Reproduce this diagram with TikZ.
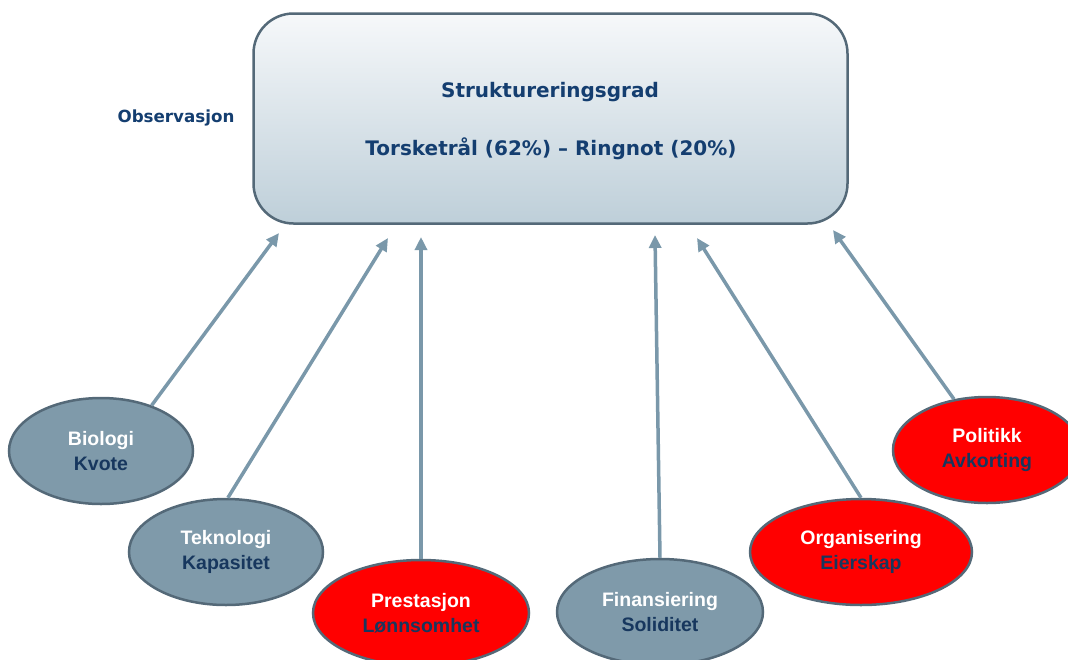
\documentclass[tikz,border=0pt]{standalone}
\usepackage{fontspec}
\setmainfont{Liberation Sans}
\newfontfamily\comicfont{DejaVu Sans}
\usetikzlibrary{shapes.geometric,arrows.meta}
\definecolor{boxtop}{RGB}{246,248,250}
\definecolor{boxbot}{RGB}{190,207,217}
\definecolor{edgegray}{RGB}{84,105,120}
\definecolor{ellgray}{RGB}{127,154,170}
\definecolor{ellred}{RGB}{255,0,0}
\definecolor{arrowgray}{RGB}{122,152,170}
\definecolor{navy}{RGB}{23,55,94}
\definecolor{boxtext}{RGB}{20,62,112}
\tikzset{
  factor/.style={ellipse, draw=edgegray, line width=2.5pt, inner sep=0pt,
    align=center, font=\fontsize{19.5}{25}\selectfont\bfseries, text=white},
  grayell/.style={factor, fill=ellgray},
  redell/.style={factor, fill=ellred},
  link/.style={draw=arrowgray, line width=3.5pt,
    -{Triangle[length=13pt,width=12pt]}},
  boxlabel/.style={font=\comicfont\bfseries\fontsize{20}{24}\selectfont, text=boxtext, inner sep=0pt}
}
\newcommand{\sub}[1]{\textcolor{navy}{#1}}
\begin{document}
\begin{tikzpicture}[x=1pt,y=-1pt]
\useasboundingbox (0,0) rectangle (1068,659);
% main box
\node[draw=edgegray, line width=2.5pt, rounded corners=40pt,
  top color=boxtop, bottom color=boxbot,
  minimum width=594pt, minimum height=210pt, inner sep=0pt] (box) at (550.5,118.5) {};
\node[boxlabel] (title) at (550,92) {Struktureringsgrad};
\node[boxlabel] (subtitle) at (551,149) {Torsketrål (62\%) – Ringnot (20\%)};
\node[font=\comicfont\bfseries\fontsize{16.7}{19}\selectfont, text=boxtext, inner sep=0pt] (obs) at (176,118) {Observasjon};
% factor ellipses
\node[grayell, minimum width=184pt, minimum height=106pt] (bio) at (101,451) {Biologi\\\sub{Kvote}};
\node[grayell, minimum width=194pt, minimum height=106pt] (tek) at (226,552) {Teknologi\\\sub{Kapasitet}};
\node[redell, minimum width=216pt, minimum height=106pt] (pre) at (421,613) {Prestasjon\\\sub{Lønnsomhet}};
\node[grayell, minimum width=206pt, minimum height=106pt] (fin) at (660,612) {Finansiering\\\sub{Soliditet}};
\node[redell, minimum width=222pt, minimum height=106pt] (org) at (861,552) {Organisering\\\sub{Eierskap}};
\node[redell, minimum width=188pt, minimum height=106pt] (pol) at (987,450) {Politikk\\\sub{Avkorting}};
% arrow heads near box
\coordinate (h1) at (279,233);
\coordinate (h2) at (388,238);
\coordinate (h3) at (421,237);
\coordinate (h4) at (655,235);
\coordinate (h5) at (697,238);
\coordinate (h6) at (833,230);
\draw[link] (bio.42) -- (h1);
\draw[link] (tek.88) -- (h2);
\draw[link] (pre.north) -- (h3);
\draw[link] (fin.north) -- (h4);
\draw[link] (org.north) -- (h5);
\draw[link] (pol.123) -- (h6);
\end{tikzpicture}
\end{document}
